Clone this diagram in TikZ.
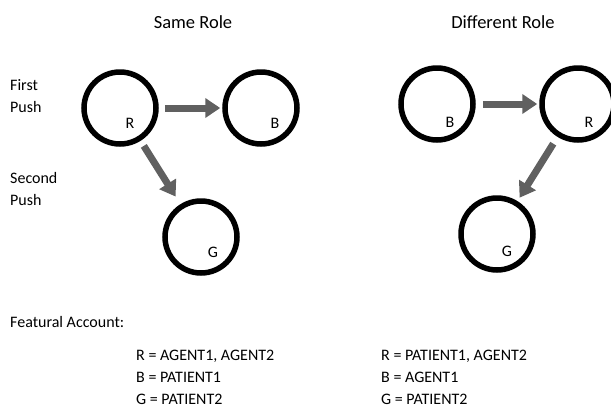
\documentclass[tikz,border=0pt]{standalone}
\usepackage{fontspec}
\setmainfont{Carlito}
\usetikzlibrary{arrows.meta}
\definecolor{pushgray}{RGB}{96,96,96}
\begin{document}
\begin{tikzpicture}[x=1pt,y=-1pt,
  ball/.style={circle,draw=black,line width=5.5pt,minimum size=72pt,inner sep=0pt},
  tag/.style={font=\fontsize{16}{19}\selectfont,inner sep=0pt},
  title/.style={font=\fontsize{18.5}{22}\selectfont,inner sep=0pt,anchor=base},
  body/.style={font=\fontsize{16}{22}\selectfont,inner sep=0pt,anchor=base west},
  push/.style={draw=pushgray,line width=7pt,-{Triangle[length=15pt,width=19pt]}},
]
\useasboundingbox (0,0) rectangle (611,408);

% column titles
\node[title] (tsame) at (193,28) {Same Role};
\node[title] (tdiff) at (503,28) {Different Role};

% row labels
\node[body] (first1) at (10,90) {First};
\node[body] (first2) at (10,112) {Push};
\node[body] (second1) at (10,183) {Second};
\node[body] (second2) at (10,205) {Push};

% same role: R pushes B, then R pushes G
\node[ball] (R1) at (120,108) {};
\node[ball] (B1) at (261,108) {};
\node[ball] (G1) at (201,237) {};
\node[tag] (lR1) at (130,123) {R};
\node[tag] (lB1) at (275,123) {B};
\node[tag] (lG1) at (213,252) {G};
\draw[push,shorten <=6pt,shorten >=2pt] (R1) -- (B1);
\draw[push,shorten <=6pt,shorten >=9pt] (R1) -- (G1);

% different role: B pushes R, then R pushes G
\node[ball] (B2) at (437,104) {};
\node[ball] (R2) at (578,104) {};
\node[ball] (G2) at (497,234) {};
\node[tag] (lB2) at (450,122) {B};
\node[tag] (lR2) at (589,122) {R};
\node[tag] (lG2) at (507,251) {G};
\draw[push,shorten <=7pt,shorten >=2pt] (B2) -- (R2);
\draw[push,shorten <=8pt,shorten >=4pt] (R2) -- (G2);

% featural account
\node[body] (feat) at (10,327) {Featural Account:};
\node[body] (sa1) at (136,360) {R = AGENT1, AGENT2};
\node[body] (sa2) at (136,382) {B = PATIENT1};
\node[body] (sa3) at (136,404) {G = PATIENT2};
\node[body] (da1) at (381,360) {R = PATIENT1, AGENT2};
\node[body] (da2) at (381,382) {B = AGENT1};
\node[body] (da3) at (381,404) {G = PATIENT2};
\end{tikzpicture}
\end{document}
